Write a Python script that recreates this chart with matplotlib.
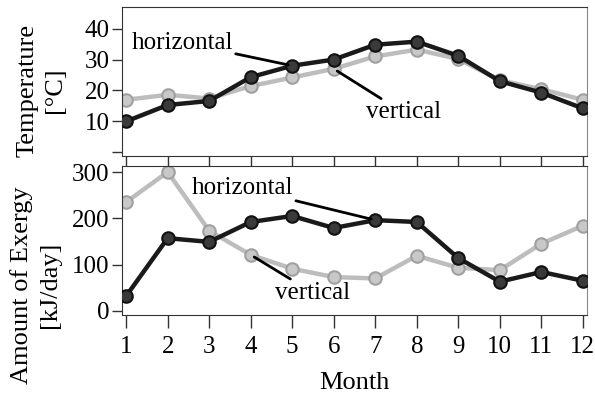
import matplotlib
matplotlib.use("Agg")
import matplotlib.pyplot as plt

plt.rcParams['font.family'] = ['Liberation Serif', 'DejaVu Serif']

months = list(range(1, 13))

# temperature [°C]
temp_horizontal = [10, 15.3, 16.6, 24.3, 28, 30, 34.8, 35.8, 31.2, 23, 19.3, 14.2]
temp_vertical = [17, 18.6, 17.4, 21.4, 24.2, 27, 31, 33.2, 30.2, 23.3, 20.4, 17]

# exergy [kJ/day]
ex_horizontal = [32, 157, 149, 192, 205, 179, 196, 192, 114, 63, 84, 65]
ex_vertical = [235, 300, 173, 121, 91, 73, 70, 119, 93, 88, 145, 184]

W, H = 595, 396
fig = plt.figure(figsize=(W / 100, H / 100), dpi=100)
ax1 = fig.add_axes([122 / W, 1 - 156 / H, 465 / W, 149 / H])
ax2 = fig.add_axes([122 / W, 1 - 315 / H, 465 / W, 149 / H])

blk = dict(color='#1a1a1a', lw=3.2, marker='o', ms=9, mfc='#3a3a3a', mec='#111111', mew=1.5, zorder=3)
gry = dict(color='#bdbdbd', lw=3.2, marker='o', ms=9, mfc='#c8c8c8', mec='#a0a0a0', mew=1.5, zorder=2)

ax1.plot(months, temp_vertical, **gry)
ax1.plot(months, temp_horizontal, **blk)
ax2.plot(months, ex_vertical, **gry)
ax2.plot(months, ex_horizontal, **blk)

fs = 18
for ax in (ax1, ax2):
    ax.set_xlim(0.9, 12.1)
    ax.set_xticks(months)
    ax.tick_params(axis='both', direction='out', labelsize=fs, width=1, colors='#333333',
                   labelcolor='black')
    ax.tick_params(axis='x', length=10)
    ax.tick_params(axis='y', length=7, pad=2)
    for s in ax.spines.values():
        s.set_color('#333333')
    ax.spines['right'].set_color('#888888')

ax1.set_ylim(-1.2, 47)
ax1.set_yticks([0, 10, 20, 30, 40])
ax1.set_yticklabels(['', '10', '20', '30', '40'])
ax1.tick_params(axis='x', labelbottom=False)

ax2.set_ylim(-9, 313)
ax2.set_yticks([0, 100, 200, 300])
ax2.tick_params(axis='x', length=9, pad=6)
ax2.set_xlabel('Month', fontsize=fs + 1, labelpad=10)

# axis titles placed by hand, as in the reference
fig.text(28 / W, 1 - 90 / H, 'Temperature', rotation=90, fontsize=fs + 1,
         ha='center', va='center')
fig.text(55 / W, 1 - 90 / H, '[°C]', rotation=90, fontsize=fs + 1,
         ha='center', va='center')
fig.text(22 / W, 1 - 285 / H, 'Amount of Exergy', rotation=90, fontsize=fs + 1,
         ha='center', va='center')
fig.text(50 / W, 1 - 285 / H, '[kJ/day]', rotation=90, fontsize=fs + 1,
         ha='center', va='center')

arrow = dict(arrowstyle='-', color='black', lw=2, shrinkA=0, shrinkB=3)
ax1.annotate('horizontal', xy=(5, temp_horizontal[4]), xytext=(2.35, 35.5),
             fontsize=fs, ha='center', va='center', arrowprops=arrow)
ax1.annotate('vertical', xy=(6, temp_vertical[5]), xytext=(7.67, 12.9),
             fontsize=fs, ha='center', va='center', arrowprops=arrow)
ax2.annotate('horizontal', xy=(7, ex_horizontal[6]), xytext=(3.8, 266),
             fontsize=fs, ha='center', va='center', arrowprops=arrow)
ax2.annotate('vertical', xy=(4, ex_vertical[3]), xytext=(5.5, 39),
             fontsize=fs, ha='center', va='center', arrowprops=arrow)

fig.savefig('out.png', dpi=100)
